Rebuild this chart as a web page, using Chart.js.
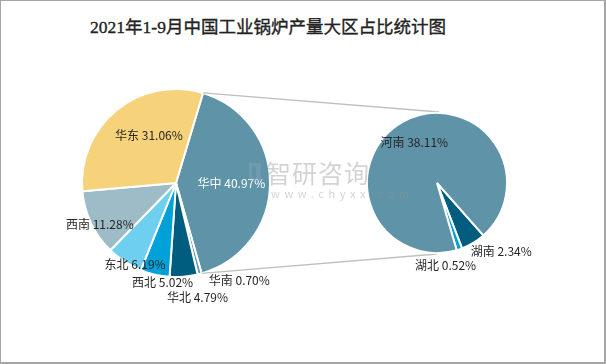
<!DOCTYPE html>
<html>
<head>
<meta charset="utf-8">
<script src="https://cdn.jsdelivr.net/npm/chart.js@4.4.0/dist/chart.umd.min.js"></script>
<style>
    html, body { margin: 0; padding: 0; background: #fff; }
    body { position: relative; width: 606px; height: 364px; overflow: hidden; }
    .layer { position: absolute; left: 0; top: 0; width: 606px; height: 364px; }
    #frame {
        position: absolute; left: 0; top: 0; width: 606px; height: 364px;
        box-sizing: border-box; border: 1px solid #a6a6a6;
        border-right-width: 2px; border-bottom-width: 2px; pointer-events: none;
    }
    #title {
        position: absolute; left: 0; top: 13px; width: 536px; text-align: center; white-space: nowrap;
        font-family: "Liberation Serif", "Noto Sans CJK SC", serif;
        font-size: 17.5px; font-weight: normal; color: #222;
        -webkit-text-stroke: 0.35px #222;
    }
    #mark {
        position: absolute; left: 266px; top: 158px; color: rgba(150, 150, 150, 0.42);
        font-family: "Noto Sans CJK SC", sans-serif; pointer-events: none;
    }
    #mark .big { font-size: 25px; line-height: 28px; letter-spacing: 1px; }
    #mark .small { font-size: 11px; line-height: 14px; letter-spacing: 4.6px; padding-left: 5px; }
    #logo {
        position: absolute; left: 249px; top: 163px; width: 12px; height: 18px;
        border: 3px solid rgba(150, 170, 190, 0.35); border-right-width: 5px; box-sizing: border-box;
        pointer-events: none;
    }
</style>
</head>
<body>
<div id="title">2021年1-9月中国工业锅炉产量大区占比统计图</div>
<div class="layer"><canvas id="mainPie"></canvas></div>
<div class="layer"><canvas id="subPie"></canvas></div>
<div id="logo"></div>
<div id="mark"><div class="big">智研咨询</div><div class="small">www.chyxx.com</div></div>
<div id="frame"></div>
<script>
// main pie: regions
const regionNames = ['华中', '华南', '华北', '西北', '东北', '西南', '华东'];
const regionValues = [40.97, 0.70, 4.79, 5.02, 6.19, 11.28, 31.06];
const regionColors = ['#5e93a8', '#6397ab', '#005d7f', '#00a0d8', '#6ecff0', '#9ebbc8', '#f6d27a'];

// secondary pie: provinces inside 华中
const provinceNames = ['湖南', '湖北', '河南'];
const provinceValues = [2.34, 0.52, 38.11];
const provinceColors = ['#005d7f', '#00a0d8', '#5e93a8'];

// label placement: [radius factor, dx, dy]
const regionLabelPos = [[0.59, 0, 0], [1.24, 34, -15], [1.24, 12, -2], [1.06, 9, 2], [0.97, 9, 5], [0.92, 2, 4], [0.59, 8, -5]];
const regionLabelColor = ['#fff', '#262626', '#262626', '#262626', '#262626', '#262626', '#262626'];
const provinceLabelPos = [[1.33, 16, -11], [1.19, -18, 4], [0.67, 0, 0]];

function labelPlugin(names, placement, colors) {
    return {
        id: 'sliceLabels',
        afterDatasetsDraw(chart) {
            const ctx = chart.ctx;
            const meta = chart.getDatasetMeta(0);
            const values = chart.data.datasets[0].data;
            ctx.save();
            ctx.font = '12px "Noto Sans CJK SC", sans-serif';
            ctx.textAlign = 'center';
            ctx.textBaseline = 'middle';
            meta.data.forEach((arc, i) => {
                const p = arc.getProps(['x', 'y', 'startAngle', 'endAngle', 'outerRadius'], true);
                const mid = (p.startAngle + p.endAngle) / 2;
                const rr = p.outerRadius * placement[i][0];
                const x = p.x + rr * Math.cos(mid) + placement[i][1];
                const y = p.y + rr * Math.sin(mid) + placement[i][2];
                ctx.fillStyle = colors[i];
                ctx.fillText(names[i] + ' ' + values[i].toFixed(2) + '%', x, y);
            });
            ctx.restore();
        }
    };
}

const mainChart = new Chart(document.getElementById('mainPie'), {
    type: 'pie',
    data: {
        labels: regionNames,
        datasets: [{
            data: regionValues,
            backgroundColor: regionColors,
            borderColor: '#fff',
            borderWidth: 2
        }]
    },
    options: {
        responsive: true,
        maintainAspectRatio: false,
        animation: false,
        rotation: 16.7,
        layout: { padding: { left: 81, top: 88, right: 335, bottom: 86 } },
        plugins: { legend: { display: false }, tooltip: { enabled: false } }
    },
    plugins: [labelPlugin(regionNames, regionLabelPos, regionLabelColor)]
});

// grey lines from the 华中 slice to the secondary pie
const connectorPlugin = {
    id: 'connectors',
    beforeDatasetsDraw(chart) {
        const big = mainChart.getDatasetMeta(0).data[0].getProps(['x', 'y', 'startAngle', 'endAngle', 'outerRadius'], true);
        const sub = chart.getDatasetMeta(0).data[0].getProps(['x', 'y', 'outerRadius'], true);
        const ctx = chart.ctx;
        ctx.save();
        ctx.strokeStyle = '#bfbfbf';
        ctx.lineWidth = 1.3;
        ctx.beginPath();
        ctx.moveTo(big.x + big.outerRadius * Math.cos(big.startAngle), big.y + big.outerRadius * Math.sin(big.startAngle));
        ctx.lineTo(sub.x + 2, sub.y - sub.outerRadius - 1);
        ctx.moveTo(big.x + big.outerRadius * Math.cos(big.endAngle), big.y + big.outerRadius * Math.sin(big.endAngle));
        ctx.lineTo(sub.x, sub.y + sub.outerRadius + 1);
        ctx.stroke();
        ctx.restore();
    }
};

const subChart = new Chart(document.getElementById('subPie'), {
    type: 'pie',
    data: {
        labels: provinceNames,
        datasets: [{
            data: provinceValues,
            backgroundColor: provinceColors,
            borderColor: '#fff',
            borderWidth: 2
        }]
    },
    options: {
        responsive: true,
        maintainAspectRatio: false,
        animation: false,
        rotation: 138.5,
        layout: { padding: { left: 366, top: 112, right: 98, bottom: 110 } },
        plugins: { legend: { display: false }, tooltip: { enabled: false } }
    },
    plugins: [connectorPlugin, labelPlugin(provinceNames, provinceLabelPos, ['#262626', '#262626', '#262626'])]
});
</script>
</body>
</html>
